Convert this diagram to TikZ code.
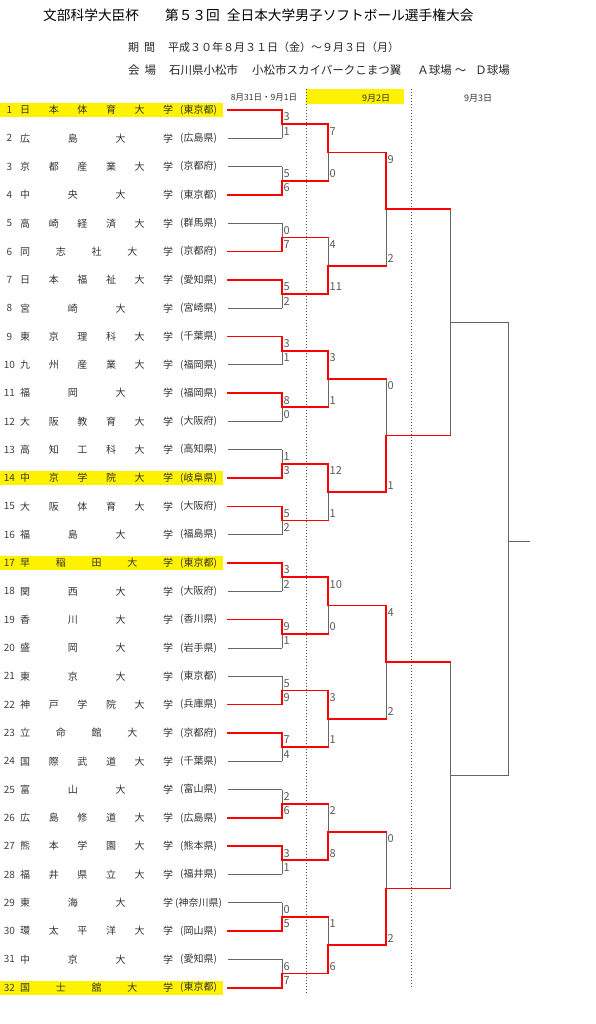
\documentclass[tikz,border=0pt]{standalone}
\usepackage{fontspec}
\setmainfont{Noto Sans CJK JP}
\usetikzlibrary{calc}

\def\spreadchars#1{\expandafter\spreadloop#1\endspread}
\def\spreadloop#1#2\endspread{#1\ifx\relax#2\relax\else\hfill\spreadloop#2\endspread\fi}

\tikzset{
	winline/.style={red, line width=1.7pt, line cap=rect},
	loseline/.style={black!60, line width=0.8pt},
	dayline/.style={black!70, line width=0.5pt, dash pattern=on 1pt off 2pt},
	score/.style={anchor=west, inner sep=0pt, text=black!65, font=\fontsize{11}{11}\selectfont},
	uni/.style={anchor=west, inner sep=0pt, text=black!80, font=\fontsize{10}{12}\selectfont},
	pref/.style={inner sep=0pt, text=black!80, font=\fontsize{10}{12}\selectfont},
	seed/.style={inner sep=0pt, text=black!75, font=\fontsize{10}{10}\selectfont},
	day/.style={inner sep=0pt, text=black!80, font=\fontsize{9}{10}\selectfont},
}

\newcommand\bout[7]{%
	\draw[loseline] (#1 -| #3) -- (#2 -| #3);
	\ifnum#4=1
		\draw[#7] (#2) -- (#2 -| #3);
		\draw[winline] (#1) -- (#1 -| #3) -- (#3);
	\else
		\draw[#7] (#1) -- (#1 -| #3);
		\draw[winline] (#2) -- (#2 -| #3) -- (#3);
	\fi
	\node[score] (#3u) at ($(#1 -| #3)+(1.5,7)$) {#5};
	\node[score] (#3d) at ($(#2 -| #3)+(1.5,-7)$) {#6};
}

\begin{document}
\begin{tikzpicture}[x=1pt, y=-1pt]
	\useasboundingbox (0,0) rectangle (595,1024);
	\foreach \i in {1,14,17,32}
		\fill[yellow] (0,{110+(\i-1)*28.313-6.7}) rectangle (222.5,{110+(\i-1)*28.313+7.3});
	\fill[yellow] (306,89) rectangle (404,104);
	\draw[dayline] (306,89) -- (306,995);
	\draw[dayline] (411,89) -- (411,988);

	\node[anchor=west, inner sep=0pt, font=\fontsize{13.7}{16}\selectfont] (title) at (43,15) {文部科学大臣杯\hspace{26pt}第５３回\hspace{7pt}全日本大学男子ソフトボール選手権大会};
	\node[anchor=west, inner sep=0pt, text=black!85, font=\fontsize{11}{13}\selectfont] (period) at (128,47) {期\hspace{5pt}間\hspace{13pt}平成３０年８月３１日（金）～９月３日（月）};
	\node[anchor=west, inner sep=0pt, text=black!85, font=\fontsize{11.5}{13}\selectfont] (venue) at (128,70) {会\hspace{5pt}場\hspace{13pt}石川県小松市\hspace{14pt}小松市スカイパークこまつ翼\hspace{16pt}Ａ球場\hspace{3pt}～\hspace{9pt}Ｄ球場};
	\node[day, font=\fontsize{8.5}{10}\selectfont] (day1) at (264,98) {8月31日・9月1日};
	\node[day] (day2) at (376,98) {9月2日};
	\node[day] (day3) at (478,98) {9月3日};

	\foreach \i/\nm/\pf in {1/日本体育大学/東京都, 2/広島大学/広島県, 3/京都産業大学/京都府, 4/中央大学/東京都,
		5/高崎経済大学/群馬県, 6/同志社大学/京都府, 7/日本福祉大学/愛知県, 8/宮崎大学/宮崎県,
		9/東京理科大学/千葉県, 10/九州産業大学/福岡県, 11/福岡大学/福岡県, 12/大阪教育大学/大阪府,
		13/高知工科大学/高知県, 14/中京学院大学/岐阜県, 15/大阪体育大学/大阪府, 16/福島大学/福島県,
		17/早稲田大学/東京都, 18/関西大学/大阪府, 19/香川大学/香川県, 20/盛岡大学/岩手県,
		21/東京大学/東京都, 22/神戸学院大学/兵庫県, 23/立命館大学/京都府, 24/国際武道大学/千葉県,
		25/富山大学/富山県, 26/広島修道大学/広島県, 27/熊本学園大学/熊本県, 28/福井県立大学/福井県,
		29/東海大学/神奈川県, 30/環太平洋大学/岡山県, 31/中京大学/愛知県, 32/国士舘大学/東京都}
	{
		\coordinate (r\i) at (228,{110+(\i-1)*28.313});
		\node[seed] (n\i) at (9.5,{110+(\i-1)*28.313}) {\i};
		\node[uni] (t\i) at (20,{110+(\i-1)*28.313}) {\makebox[153pt][s]{\spreadchars{\nm}}};
		\node[pref] (p\i) at (198.5,{110+(\i-1)*28.313}) {(\pf)};
	}

	\foreach \m/\w/\p/\q in {1/1/3/1, 2/2/5/6, 3/2/0/7, 4/1/5/2, 5/1/3/1, 6/1/8/0, 7/2/1/3, 8/1/5/2,
		9/1/3/2, 10/1/9/1, 11/2/5/9, 12/1/7/4, 13/2/2/6, 14/1/3/1, 15/2/0/5, 16/2/6/7}
	{
		\pgfmathtruncatemacro\ta{2*\m-1}
		\pgfmathtruncatemacro\tb{2*\m}
		\coordinate (a\m) at ($(r\ta)!.5!(r\tb)+(54,0)$);
		\bout{r\ta}{r\tb}{a\m}{\w}{\p}{\q}{loseline}
	}
	\foreach \m/\w/\p/\q in {1/1/7/0, 2/2/4/11, 3/1/3/1, 4/1/12/1, 5/1/10/0, 6/1/3/1, 7/2/2/8, 8/2/1/6}
	{
		\pgfmathtruncatemacro\ta{2*\m-1}
		\pgfmathtruncatemacro\tb{2*\m}
		\coordinate (b\m) at ($(a\ta)!.5!(a\tb)+(46,0)$);
		\bout{a\ta}{a\tb}{b\m}{\w}{\p}{\q}{winline}
	}
	\foreach \m/\w/\p/\q in {1/1/9/2, 2/2/0/1, 3/1/4/2, 4/2/0/2}
	{
		\pgfmathtruncatemacro\ta{2*\m-1}
		\pgfmathtruncatemacro\tb{2*\m}
		\coordinate (c\m) at ($(b\ta)!.5!(b\tb)+(58,0)$);
		\bout{b\ta}{b\tb}{c\m}{\w}{\p}{\q}{winline}
	}

	\coordinate (sf1) at ($(c1)!.5!(c2)+(64,0)$);
	\coordinate (sf2) at ($(c3)!.5!(c4)+(64,0)$);
	\draw[loseline] (c1 -| sf1) -- (c2 -| sf1);
	\draw[loseline] (c3 -| sf2) -- (c4 -| sf2);
	\draw[winline] (c1) -- (c1 -| sf1);
	\draw[winline] (c2) -- (c2 -| sf1);
	\draw[winline] (c3) -- (c3 -| sf2);
	\draw[winline] (c4) -- (c4 -| sf2);
	\coordinate (fin) at ($(sf1)!.5!(sf2)+(58,-7)$);
	\coordinate (champ) at ($(fin)+(22,0)$);
	\draw[loseline] (sf1) -- (sf1 -| fin) -- (sf2 -| fin) -- (sf2);
	\draw[loseline] (fin) -- (champ);
\end{tikzpicture}
\end{document}
